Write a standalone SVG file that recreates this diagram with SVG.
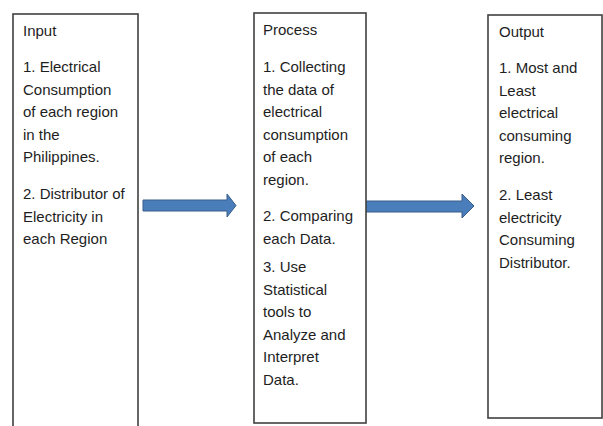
<svg xmlns="http://www.w3.org/2000/svg" width="603" height="426" viewBox="0 0 603 426">
<style>
.box{fill:#fff;stroke:#404040;stroke-width:1.6}
.t{font-family:"Liberation Sans",Arial,sans-serif;font-size:15px;fill:#1e1e1e}
.arr{fill:#4a7ebb;stroke:#385d8a;stroke-width:1}
</style>
<rect width="603" height="426" fill="#fff"/>
<g id="connectors">
<path class="arr" d="M143,200 H227 V194 L236,205.5 L227,217 V211 H143 Z"/>
<path class="arr" d="M364,201 H462 V194 L474,206 L462,218 V212 H364 Z"/>
</g>
<g id="input">
<rect class="box" x="13" y="14" width="125" height="420"/>
<text class="t" x="23"><tspan y="36">Input</tspan><tspan x="23" y="72">1. Electrical</tspan><tspan x="23" y="94.5">Consumption</tspan><tspan x="23" y="117">of each region</tspan><tspan x="23" y="139.5">in the</tspan><tspan x="23" y="162">Philippines.</tspan><tspan x="23" y="199">2. Distributor of</tspan><tspan x="23" y="221.5">Electricity in</tspan><tspan x="23" y="244">each Region</tspan></text>
</g>
<g id="process">
<rect class="box" x="254" y="13" width="112" height="410"/>
<text class="t" x="263"><tspan y="35">Process</tspan><tspan x="263" y="72">1. Collecting</tspan><tspan x="263" y="94.5">the data of</tspan><tspan x="263" y="117">electrical</tspan><tspan x="263" y="139.5">consumption</tspan><tspan x="263" y="162">of each</tspan><tspan x="263" y="184.5">region.</tspan><tspan x="263" y="221">2. Comparing</tspan><tspan x="263" y="243.5">each Data.</tspan><tspan x="263" y="272">3. Use</tspan><tspan x="263" y="294.5">Statistical</tspan><tspan x="263" y="317">tools to</tspan><tspan x="263" y="339.5">Analyze and</tspan><tspan x="263" y="362">Interpret</tspan><tspan x="263" y="384.5">Data.</tspan></text>
</g>
<g id="output">
<rect class="box" x="488" y="15" width="114" height="403"/>
<text class="t" x="499"><tspan y="37">Output</tspan><tspan x="499" y="73">1. Most and</tspan><tspan x="499" y="95.5">Least</tspan><tspan x="499" y="118">electrical</tspan><tspan x="499" y="140.5">consuming</tspan><tspan x="499" y="163">region.</tspan><tspan x="499" y="200">2. Least</tspan><tspan x="499" y="222.5">electricity</tspan><tspan x="499" y="245">Consuming</tspan><tspan x="499" y="267.5">Distributor.</tspan></text>
</g>
</svg>
